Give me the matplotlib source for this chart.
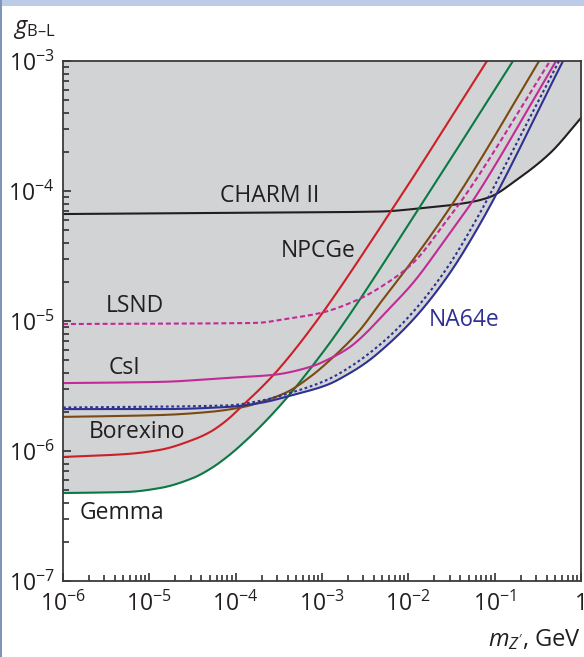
import numpy as np
import matplotlib
matplotlib.use("Agg")
import matplotlib.pyplot as plt
from matplotlib.ticker import LogLocator, FuncFormatter, NullFormatter
from matplotlib.patches import Rectangle

plt.rcParams["font.family"] = ["Open Sans", "DejaVu Sans"]
plt.rcParams["mathtext.fontset"] = "custom"
plt.rcParams["mathtext.rm"] = "Open Sans"
plt.rcParams["mathtext.it"] = "Open Sans:italic"
plt.rcParams["mathtext.default"] = "rm"

# curves: mass (GeV), coupling
charm_m = [1e-6, 1.47e-4, 4.7e-3, 1.36e-2, 5.2e-2, 8.83e-2, 0.18, 0.44, 1.0]
charm_g = [6.65e-5, 6.8e-5, 6.95e-5, 7.35e-5, 8.2e-5, 9.0e-5, 1.22e-4, 1.96e-4, 3.65e-4]

gemma_m = [1e-6, 5.5e-6, 1.33e-5, 3.21e-5, 5.05e-5, 7.94e-5, 1.22e-4, 1.91e-4, 3.73e-4, 8.75e-4, 1.49e-3, 1.29e-2, 0.163]
gemma_g = [4.75e-7, 4.84e-7, 5.19e-7, 6.2e-7, 7.27e-7, 9.0e-7, 1.15e-6, 1.53e-6, 2.47e-6, 5.01e-6, 8.09e-6, 7.14e-5, 1e-3]

borex_m = [1e-6, 5.5e-6, 1.33e-5, 3.21e-5, 5.05e-5, 7.94e-5, 1.22e-4, 1.91e-4, 3.01e-4, 7.26e-4, 6.65e-3, 8.15e-2]
borex_g = [9.0e-7, 9.48e-7, 1.02e-6, 1.22e-6, 1.4e-6, 1.73e-6, 2.26e-6, 3.0e-6, 4.12e-6, 8.53e-6, 7.4e-5, 1e-3]

npcge_m = [1e-6, 1.33e-5, 5.05e-5, 1.22e-4, 2.31e-4, 3.94e-4, 7.26e-4, 1.24e-3, 2.75e-3, 4.7e-3, 1.13e-2, 2.81e-2, 4.91e-2, 0.327]
npcge_g = [1.83e-6, 1.89e-6, 2.0e-6, 2.18e-6, 2.47e-6, 2.84e-6, 3.71e-6, 5.01e-6, 8.53e-6, 1.37e-5, 2.94e-5, 6.9e-5, 1.22e-4, 1e-3]

csi_m = [1e-6, 1.33e-5, 7.94e-5, 2.71e-4, 7.26e-4, 1.34e-3, 2.11e-3, 3.32e-3, 4.7e-3, 1.13e-2, 2.81e-2, 5.18e-2, 0.514]
csi_g = [3.33e-6, 3.4e-6, 3.65e-6, 3.85e-6, 4.43e-6, 5.28e-6, 6.31e-6, 8.22e-6, 1.05e-5, 1.96e-5, 4.43e-5, 7.8e-5, 1e-3]

lsnd_m = [1e-6, 1.68e-4, 3.94e-4, 9.49e-4, 2.55e-3, 5.66e-3, 1.13e-2, 2.81e-2, 4.19e-2, 0.438]
lsnd_g = [9.48e-6, 9.66e-6, 1.04e-5, 1.15e-5, 1.45e-5, 1.96e-5, 2.79e-5, 5.98e-5, 8.53e-5, 1e-3]

na64_m = [1e-6, 1.33e-5, 7.94e-5, 1.91e-4, 4.61e-4, 1.14e-3, 2.11e-3, 3.32e-3, 5.09e-3, 1.13e-2, 2.81e-2, 6.76e-2, 0.619]
na64_g = [2.1e-6, 2.1e-6, 2.18e-6, 2.34e-6, 2.7e-6, 3.22e-6, 3.98e-6, 4.84e-6, 6.1e-6, 1.02e-5, 2.18e-5, 5.57e-5, 1e-3]

na64d_m = [1e-6, 7.94e-5, 1.91e-4, 4.61e-4, 1.14e-3, 2.11e-3, 5.09e-3, 1.13e-2, 2.81e-2, 6.76e-2, 8.15e-2, 0.556]
na64d_g = [2.16e-6, 2.24e-6, 2.43e-6, 2.84e-6, 3.52e-6, 4.43e-6, 6.89e-6, 1.17e-5, 2.56e-5, 6.78e-5, 8.53e-5, 1e-3]

labels = ["CHARM II", "NPCGe", "LSND", "CsI", "Borexino", "Gemma", "NA64e"]
label_m = [2.5e-4, 9.0e-4, 6.8e-6, 5.1e-6, 7.2e-6, 4.8e-6, 4.4e-2]
label_g = [9.2e-5, 3.45e-5, 1.3e-5, 4.35e-6, 1.4e-6, 3.33e-7, 1.02e-5]

fig = plt.figure(figsize=(5.84, 6.57), dpi=100)
ax = fig.add_axes([63 / 584, 76 / 657, 518 / 584, 520 / 657])

# frame decoration of the original page
fig.patches.append(Rectangle((0, 1 - 6 / 657), 1, 6 / 657, transform=fig.transFigure,
                             facecolor="#bccbe8", edgecolor="none"))
fig.patches.append(Rectangle((0, 0), 2 / 584, 1, transform=fig.transFigure,
                             facecolor="#8094b8", edgecolor="none"))


def pchip(x, y, xn):
    # monotone cubic through the read points (log-log space)
    x, y = np.asarray(x, float), np.asarray(y, float)
    h = np.diff(x)
    d = np.diff(y) / h
    s = np.zeros_like(y)
    s[0], s[-1] = d[0], d[-1]
    for k in range(1, len(x) - 1):
        if d[k - 1] * d[k] > 0:
            w1, w2 = 2 * h[k] + h[k - 1], h[k] + 2 * h[k - 1]
            s[k] = (w1 + w2) / (w1 / d[k - 1] + w2 / d[k])
    i = np.clip(np.searchsorted(x, xn) - 1, 0, len(h) - 1)
    t = (xn - x[i]) / h[i]
    out = ((2 * t**3 - 3 * t**2 + 1) * y[i] + (t**3 - 2 * t**2 + t) * h[i] * s[i]
           + (-2 * t**3 + 3 * t**2) * y[i + 1] + (t**3 - t**2) * h[i] * s[i + 1])
    out[xn > x[-1] + 1e-12] = np.inf
    return out


curves = [
    (charm_m, charm_g, "#231f20", "-"),
    (borex_m, borex_g, "#cc1f27", "-"),
    (gemma_m, gemma_g, "#0a7a45", "-"),
    (npcge_m, npcge_g, "#7b4a12", "-"),
    (lsnd_m, lsnd_g, "#c22a97", (0, (2.4, 1.4))),
    (csi_m, csi_g, "#c22a97", "-"),
    (na64d_m, na64d_g, "#2e3192", (0, (1.3, 1.3))),
    (na64_m, na64_g, "#2e3192", "-"),
]

# excluded region: above the lowest of all limits
grid = np.linspace(-6, 0, 1200)
env = np.full_like(grid, np.inf)
for m, g, c, ls in curves:
    env = np.minimum(env, pchip(np.log10(m), np.log10(g), grid))
ax.fill_between(10 ** grid, 10 ** env, 1e-3, color="#d1d3d4", lw=0)

for m, g, c, ls in curves:
    lx = np.linspace(np.log10(m[0]), np.log10(m[-1]), 500)
    ly = pchip(np.log10(m), np.log10(g), lx)
    ax.plot(10 ** lx, 10 ** ly, color=c, ls=ls, lw=1.5)

for t, xm, yg in zip(labels, label_m, label_g):
    ax.text(xm, yg, t, fontsize=16.5, ha="center", va="center",
            color="#2e3192" if t == "NA64e" else "#231f20")

ax.set_xscale("log")
ax.set_yscale("log")
ax.set_xlim(1e-6, 1)
ax.set_ylim(1e-7, 1e-3)

ax.xaxis.set_major_locator(LogLocator(base=10, numticks=10))
ax.xaxis.set_minor_locator(LogLocator(base=10, subs=np.arange(2, 10), numticks=20))
ax.yaxis.set_minor_locator(LogLocator(base=10, subs=np.arange(2, 10), numticks=20))
fmt = FuncFormatter(lambda v, p: "1" if abs(v - 1) < 1e-9 else r"$10^{%d}$" % round(np.log10(v)))
ax.xaxis.set_major_formatter(fmt)
ax.yaxis.set_major_formatter(fmt)
ax.xaxis.set_minor_formatter(NullFormatter())
ax.yaxis.set_minor_formatter(NullFormatter())

ax.tick_params(which="both", direction="in", colors="#231f20", labelsize=16.5, width=1.1)
ax.tick_params(which="major", length=6)
ax.tick_params(which="minor", length=4)
ax.tick_params(axis="x", pad=8)
ax.tick_params(axis="y", pad=6)
for s in ax.spines.values():
    s.set_color("#3a3a3a")
    s.set_linewidth(1.3)

fig.text(13 / 584, 1 - 33 / 657, "$\\mathit{g}_{\\mathrm{B\u2013L}}$", fontsize=17,
         ha="left", va="baseline", color="#231f20")
fig.text(581 / 584, 1 - 646 / 657, r"$\mathit{m}_{\mathit{Z'}}$, GeV", fontsize=17,
         ha="right", va="baseline", color="#231f20")

fig.savefig("out.png", dpi=100)
